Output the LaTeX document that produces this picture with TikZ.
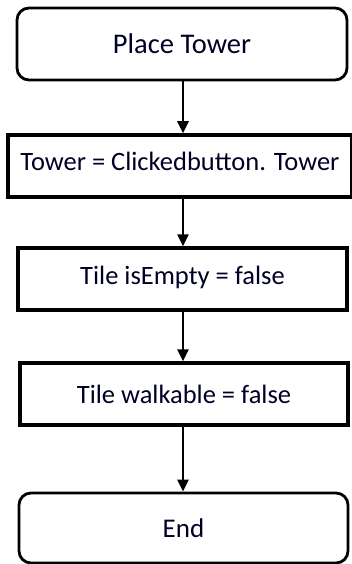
\documentclass[tikz,border=0pt]{standalone}
\usepackage{fontspec}
\setmainfont{Carlito}
\usetikzlibrary{arrows.meta}
\begin{document}
\begin{tikzpicture}[x=1pt,y=1pt,
  terminal/.style={draw=black, line width=2.8pt, rounded corners=12pt,
    minimum width=#1, minimum height=72pt, inner sep=0pt,
    font=\fontsize{27}{30}\selectfont, text=black!85!blue},
  terminal/.default=330pt,
  process/.style={draw=black, line width=3.5pt,
    minimum width=#1, minimum height=62pt, inner sep=0pt,
    font=\fontsize{26.5}{30}\selectfont, text=black!85!blue},
  process/.default=328pt,
  raised/.style={text depth=#1},
  flow/.style={line width=2.6pt, -{Triangle[width=11pt,length=12pt]}}]
  \useasboundingbox (0,0) rectangle (352,-564);
  % flowchart steps
  \node[terminal, font=\fontsize{28.5}{30}\selectfont] (start) at (182,-44) {Place Tower};
  \node[process=344pt, raised=9pt] (tower) at (180,-166) {Tower = Clickedbutton. Tower};
  \node[process=329pt, raised=8pt] (empty) at (182.5,-279) {Tile isEmpty = false};
  \node[process=328pt] (walk) at (184,-394) {Tile walkable = false};
  \node[terminal=329pt, minimum height=70pt] (end) at (183.5,-528) {End};
  % connectors
  \coordinate (c1) at (183,-80);
  \draw[flow] (start.south -| c1) -- (tower.north -| c1);
  \draw[flow] (tower.south -| c1) -- (empty.north -| c1);
  \draw[flow] (empty.south -| c1) -- (walk.north -| c1);
  \draw[flow] (walk.south -| c1) -- (end.north -| c1);
\end{tikzpicture}
\end{document}
